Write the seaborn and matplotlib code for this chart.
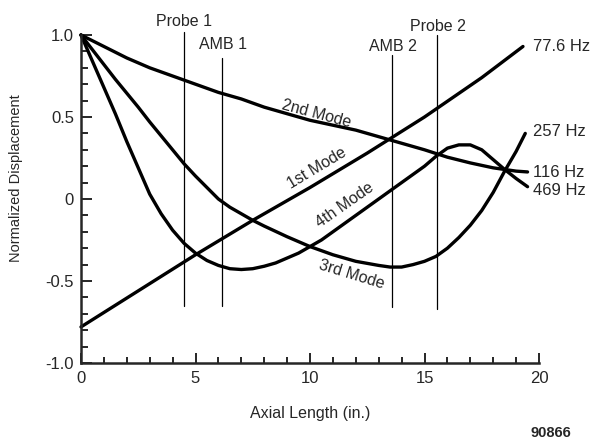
import numpy as np
import pandas as pd
import matplotlib
matplotlib.use("Agg")
import matplotlib.pyplot as plt
import seaborn as sns

# ---------------- data ----------------
x_mode1 = [0, 2.5, 5, 7.5, 10, 12.5, 15, 17.5, 19.3]
y_mode1 = [-0.78, -0.56, -0.34, -0.13, 0.07, 0.28, 0.50, 0.74, 0.93]

x_mode2 = [0, 1, 2, 3, 4, 5, 6, 7, 8, 9, 10, 11, 12, 13, 14, 15, 16, 17, 18, 19, 19.5]
y_mode2 = [1.0, 0.93, 0.86, 0.80, 0.75, 0.70, 0.65, 0.61, 0.56, 0.52, 0.48,
           0.45, 0.42, 0.38, 0.34, 0.30, 0.255, 0.22, 0.19, 0.17, 0.165]

x_mode3 = [0, 0.5, 1, 1.5, 2, 2.5, 3, 3.5, 4, 4.5, 5, 5.5, 6, 6.5, 7, 7.5, 8,
           9, 10, 11, 12, 13, 13.5, 14, 14.5, 15, 15.5, 16, 16.5, 17, 17.5,
           18, 18.5, 19, 19.4]
y_mode3 = [1.0, 0.91, 0.82, 0.73, 0.645, 0.56, 0.47, 0.385, 0.30, 0.215, 0.14,
           0.07, 0.0, -0.05, -0.09, -0.13, -0.165, -0.23, -0.29, -0.34, -0.38,
           -0.405, -0.415, -0.415, -0.40, -0.38, -0.35, -0.30, -0.235, -0.16,
           -0.07, 0.04, 0.17, 0.29, 0.40]

x_mode4 = [0, 0.5, 1, 1.5, 2, 2.5, 3, 3.5, 4, 4.5, 5, 5.5, 6, 6.5, 7, 7.5, 8,
           8.5, 9, 9.5, 10, 10.5, 11, 12, 13, 14, 15, 15.5, 16, 16.5, 17, 17.5,
           18, 18.5, 19, 19.5]
y_mode4 = [1.0, 0.84, 0.68, 0.52, 0.35, 0.19, 0.03, -0.09, -0.19, -0.27, -0.33,
           -0.375, -0.405, -0.425, -0.43, -0.425, -0.41, -0.39, -0.36, -0.33,
           -0.29, -0.25, -0.20, -0.10, 0.0, 0.10, 0.20, 0.26, 0.31, 0.33, 0.33,
           0.30, 0.24, 0.18, 0.125, 0.075]

mode_names = ["1st Mode", "2nd Mode", "3rd Mode", "4th Mode"]
freq_labels = ["77.6 Hz", "116 Hz", "257 Hz", "469 Hz"]

sensor_names = ["Probe 1", "AMB 1", "AMB 2", "Probe 2"]
sensor_x = [4.5, 6.15, 13.6, 15.55]
sensor_top = [1.02, 0.86, 0.88, 1.0]
sensor_bottom = [-0.65, -0.65, -0.66, -0.67]

x_ticks = [0, 5, 10, 15, 20]
x_ticklabels = ["0", "5", "10", "15", "20"]
y_ticks = [-1.0, -0.5, 0, 0.5, 1.0]
y_ticklabels = ["-1.0", "-0.5", "0", "0.5", "1.0"]

# ---------------- style ----------------
sns.set_style("ticks")
plt.rcParams["font.family"] = ["Liberation Sans", "DejaVu Sans"]

fig = plt.figure(figsize=(5.94, 4.42), dpi=100)
ax = fig.add_axes([81 / 594, 79 / 442, 458 / 594, 328 / 442])

frames = []
for name, xs, ys in zip(mode_names,
                        [x_mode1, x_mode2, x_mode3, x_mode4],
                        [y_mode1, y_mode2, y_mode3, y_mode4]):
    frames.append(pd.DataFrame({"x": xs, "y": ys, "mode": name}))
df = pd.concat(frames, ignore_index=True)

for name in mode_names:
    sub = df[df["mode"] == name]
    sns.lineplot(data=sub, x="x", y="y", ax=ax, color="black", linewidth=2.4,
                 sort=True, estimator=None, clip_on=False)

# sensor lines
for sx, st, sb in zip(sensor_x, sensor_top, sensor_bottom):
    ax.plot([sx, sx], [sb, st], color="black", linewidth=0.9, clip_on=False)

# sensor labels
ax.text(4.5, 1.08, "Probe 1", ha="center", va="center", fontsize=11.5)
ax.text(6.2, 0.94, "AMB 1", ha="center", va="center", fontsize=11.5)
ax.text(13.6, 0.93, "AMB 2", ha="center", va="center", fontsize=11.5)
ax.text(15.6, 1.05, "Probe 2", ha="center", va="center", fontsize=11.5)

# mode labels along curves
ax.text(10.3, 0.52, "2nd Mode", ha="center", va="center", fontsize=11.5, rotation=-15)
ax.text(10.3, 0.185, "1st Mode", ha="center", va="center", fontsize=11.5, rotation=31)
ax.text(11.5, -0.035, "4th Mode", ha="center", va="center", fontsize=11.5, rotation=35)
ax.text(11.8, -0.46, "3rd Mode", ha="center", va="center", fontsize=11.5, rotation=-17)

# frequency labels
freq_y = [0.93, 0.16, 0.41, 0.05]
for lab, fy in zip(freq_labels, freq_y):
    ax.text(19.72, fy, lab, ha="left", va="center", fontsize=12, clip_on=False)

ax.set_xlim(0, 20)
ax.set_ylim(-1.0, 1.0)
ax.set_xticks(x_ticks)
ax.set_xticklabels(x_ticklabels)
ax.set_yticks(y_ticks)
ax.set_yticklabels(y_ticklabels)
ax.set_xticks(np.arange(0, 21, 1), minor=True)
ax.set_yticks(np.arange(-1.0, 1.01, 0.1), minor=True)

ax.tick_params(axis="both", which="both", direction="in", width=1.4, labelsize=12)
ax.tick_params(axis="x", which="major", length=7, pad=6)
ax.tick_params(axis="x", which="minor", length=4)
ax.tick_params(axis="y", which="major", length=8, pad=5)
ax.tick_params(axis="y", which="minor", length=5)

sns.despine(ax=ax)
for sp in ["left", "bottom"]:
    ax.spines[sp].set_linewidth(1.8)

ax.set_xlabel("Axial Length (in.)", fontsize=11.5, labelpad=14)
ax.set_ylabel("Normalized Displacement", fontsize=10.5)
ax.yaxis.set_label_coords(-0.127, 0.565)

fig.text(551 / 594, 1 - 433 / 442, "90866", ha="center", va="center",
         fontsize=10.5, fontweight="bold")

fig.savefig("out.png", dpi=100)
